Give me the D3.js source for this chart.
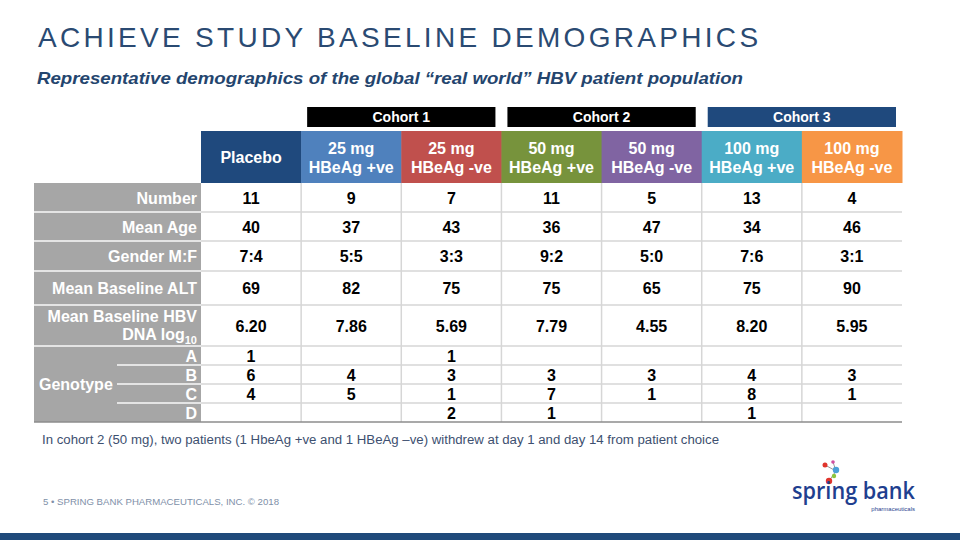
<!DOCTYPE html>
<html><head><meta charset="utf-8">
<script src="https://cdn.jsdelivr.net/npm/d3@7"></script>
<style>body{margin:0;background:#fff}svg{display:block}text{font-family:"Liberation Sans",Arial,sans-serif}</style>
</head><body><svg id="c" width="960" height="540"></svg>
<script>
// ---- data ----
const groups = ["Placebo","25 mg HBeAg +ve","25 mg HBeAg -ve","50 mg HBeAg +ve","50 mg HBeAg -ve","100 mg HBeAg +ve","100 mg HBeAg -ve"];
const groupLine1 = ["Placebo","25 mg","25 mg","50 mg","50 mg","100 mg","100 mg"];
const groupLine2 = ["","HBeAg +ve","HBeAg -ve","HBeAg +ve","HBeAg -ve","HBeAg +ve","HBeAg -ve"];
const groupColors = ["#1f497d","#4f81bd","#c0504d","#77933c","#8064a2","#4bacc6","#f79646"];
const cohorts = ["Cohort 1","Cohort 2","Cohort 3"];
const cohortSpan = [[1,2],[3,4],[5,6]];
const cohortColors = ["#000000","#000000","#1f497d"];
const rowLabels = ["Number","Mean Age","Gender M:F","Mean Baseline ALT","Mean Baseline HBV DNA log10"];
const numberVals = [11,9,7,11,5,13,4];
const ageVals = [40,37,43,36,47,34,46];
const genderVals = ["7:4","5:5","3:3","9:2","5:0","7:6","3:1"];
const altVals = [69,82,75,75,65,75,90];
const dnaVals = ["6.20","7.86","5.69","7.79","4.55","8.20","5.95"];
const genotypes = ["A","B","C","D"];
const genoA = [1,null,1,null,null,null,null];
const genoB = [6,4,3,3,3,4,3];
const genoC = [4,5,1,7,1,8,1];
const genoD = [null,null,2,1,null,1,null];
const footnote = "In cohort 2 (50 mg), two patients (1 HbeAg +ve and 1 HBeAg \u2013ve) withdrew at day 1 and day 14 from patient choice";

const rowsData = [numberVals, ageVals, genderVals, altVals, dnaVals, genoA, genoB, genoC, genoD];
const rowKeys = ["Number","Mean Age","Gender M:F","ALT","DNA","A","B","C","D"];
const rowWeights = [29,29,30,34,41,19,19,19,19];

const svg = d3.select("#c");
const FS = "16px";

// title
const title = svg.append("text").attr("x",38).attr("y",47).attr("fill","#2a4a72")
  .style("font-size","28px").text("ACHIEVE STUDY BASELINE DEMOGRAPHICS");
{ const w = title.node().getComputedTextLength(); const n = 35; title.style("letter-spacing", ((720 - w)/(n-1)).toFixed(2)+"px"); }
svg.append("text").attr("x",37).attr("y",84).attr("fill","#24456e")
  .style("font-size","17px").style("font-weight","bold").style("font-style","italic")
  .attr("textLength",706).attr("lengthAdjust","spacingAndGlyphs")
  .text("Representative demographics of the global \u201creal world\u201d HBV patient population");

// scales
const x = d3.scaleBand().domain(groups).range([201,902]);
const tableTop = 183, tableBottom = 422;
const cum = [0]; rowWeights.forEach(w=>cum.push(cum[cum.length-1]+w));
const y = d3.scaleLinear().domain([0,cum[cum.length-1]]).range([tableTop,tableBottom]);
const rowY = i => y(cum[i]), rowH = i => y(cum[i+1])-y(cum[i]);

// cohort bars
cohorts.forEach((c,i)=>{
  const x0 = x(groups[cohortSpan[i][0]])+6, x1 = x(groups[cohortSpan[i][1]])+x.bandwidth()-6;
  svg.append("rect").attr("x",x0).attr("y",107).attr("width",x1-x0).attr("height",20).attr("fill",cohortColors[i]);
  svg.append("text").attr("x",(x0+x1)/2).attr("y",122).attr("text-anchor","middle").attr("fill","#fff")
    .style("font-size","14px").style("font-weight","bold").text(c);
});

// header cells
groups.forEach((g,i)=>{
  svg.append("rect").attr("x",x(g)).attr("y",131).attr("width",x.bandwidth()+0.5).attr("height",52).attr("fill",groupColors[i]);
  const t = svg.append("text").attr("x",x(g)+x.bandwidth()/2).attr("text-anchor","middle").attr("fill","#fff")
    .style("font-size",FS).style("font-weight","bold");
  if(groupLine2[i]===""){ t.attr("y",163).text(groupLine1[i]); }
  else { t.append("tspan").attr("x",x(g)+x.bandwidth()/2).attr("y",154).text(groupLine1[i]);
         t.append("tspan").attr("x",x(g)+x.bandwidth()/2).attr("y",173).text(groupLine2[i]); }
});

// label column background
svg.append("rect").attr("x",34).attr("y",tableTop).attr("width",167).attr("height",tableBottom-tableTop).attr("fill","#a6a6a6");
for(let i=1;i<rowKeys.length;i++){
  const x0 = i>5 ? 117 : 34;
  svg.append("line").attr("x1",x0).attr("x2",201).attr("y1",rowY(i)).attr("y2",rowY(i)).attr("stroke","#e4e4e4").attr("stroke-width",2);
}
for(let i=1;i<rowKeys.length;i++){
  svg.append("line").attr("x1",201).attr("x2",902).attr("y1",rowY(i)).attr("y2",rowY(i)).attr("stroke","#d6d6d6").attr("stroke-width",1.5);
}
groups.forEach((g,i)=>{ if(i>0) svg.append("line").attr("x1",x(g)).attr("x2",x(g)).attr("y1",tableTop).attr("y2",tableBottom).attr("stroke","#d6d6d6").attr("stroke-width",1.5); });
svg.append("line").attr("x1",34).attr("x2",902).attr("y1",tableBottom).attr("y2",tableBottom).attr("stroke","#8c8c8c").attr("stroke-width",1.5);

// row labels
const lab = (txt,yy)=>svg.append("text").attr("x",197).attr("y",yy).attr("text-anchor","end").attr("fill","#fff")
  .style("font-size",FS).style("font-weight","bold").text(txt);
for(let i=0;i<4;i++) lab(rowLabels[i], rowY(i)+rowH(i)/2+6);
lab("Mean Baseline HBV", rowY(4)+17);
{ const t = svg.append("text").attr("x",197).attr("y",rowY(4)+35).attr("text-anchor","end").attr("fill","#fff")
    .style("font-size",FS).style("font-weight","bold");
  t.append("tspan").text("DNA log");
  t.append("tspan").attr("dy",4).style("font-size","11px").text("10"); }
genotypes.forEach((gt,j)=>lab(gt, rowY(5+j)+rowH(5+j)/2+6));
svg.append("text").attr("x",39).attr("y",rowY(5)+(tableBottom-rowY(5))/2+6).attr("fill","#fff")
  .style("font-size",FS).style("font-weight","bold").text("Genotype");

// values
rowsData.forEach((vals,r)=>{
  vals.forEach((v,i)=>{
    if(v===null) return;
    svg.append("text").attr("x",x(groups[i])+x.bandwidth()/2).attr("y",rowY(r)+rowH(r)/2+6)
      .attr("text-anchor","middle").attr("fill","#000").style("font-size",FS).style("font-weight","bold").text(v);
  });
});

// footnote
svg.append("text").attr("x",42).attr("y",444).attr("fill","#3d5070").style("font-size","12px")
  .attr("textLength",677).attr("lengthAdjust","spacingAndGlyphs").text(footnote);

// footer
svg.append("text").attr("x",43).attr("y",505).attr("fill","#8090a8").style("font-size","9.5px")
  .attr("textLength",236).attr("lengthAdjust","spacingAndGlyphs")
  .text("5  \u2022  SPRING BANK PHARMACEUTICALS, INC.  \u00a9 2018");
svg.append("rect").attr("x",0).attr("y",533).attr("width",960).attr("height",7).attr("fill","#1f4a7a");

// logo
const logo = svg.append("g");
logo.append("line").attr("x1",825).attr("y1",465).attr("x2",836).attr("y2",471).attr("stroke","#999").attr("stroke-width",1);
logo.append("line").attr("x1",833).attr("y1",462).attr("x2",836).attr("y2",471).attr("stroke","#999").attr("stroke-width",1);
logo.append("line").attr("x1",836).attr("y1",471).attr("x2",829).attr("y2",481).attr("stroke","#999").attr("stroke-width",1);
logo.append("circle").attr("cx",825).attr("cy",465).attr("r",2.5).attr("fill","#e0342c");
logo.append("circle").attr("cx",833).attr("cy",462).attr("r",1.8).attr("fill","#d04fa0");
logo.append("circle").attr("cx",836).attr("cy",470).attr("r",3.2).attr("fill","#4ba0d8");
logo.append("circle").attr("cx",834).attr("cy",476).attr("r",2.2).attr("fill","#8cc63f");
logo.append("circle").attr("cx",829).attr("cy",481).attr("r",3.2).attr("fill","#e0342c");
logo.append("text").attr("x",792).attr("y",499).attr("fill","#1f3f8f").style("font-size","24px").style("font-weight","600")
  .attr("textLength",123).attr("lengthAdjust","spacingAndGlyphs").style("font-family","'Open Sans',sans-serif").text("spring bank");
logo.append("text").attr("x",915).attr("y",511).attr("text-anchor","end").attr("fill","#1f3f8f").style("font-size","6px")
  .text("pharmaceuticals");
</script></body></html>
